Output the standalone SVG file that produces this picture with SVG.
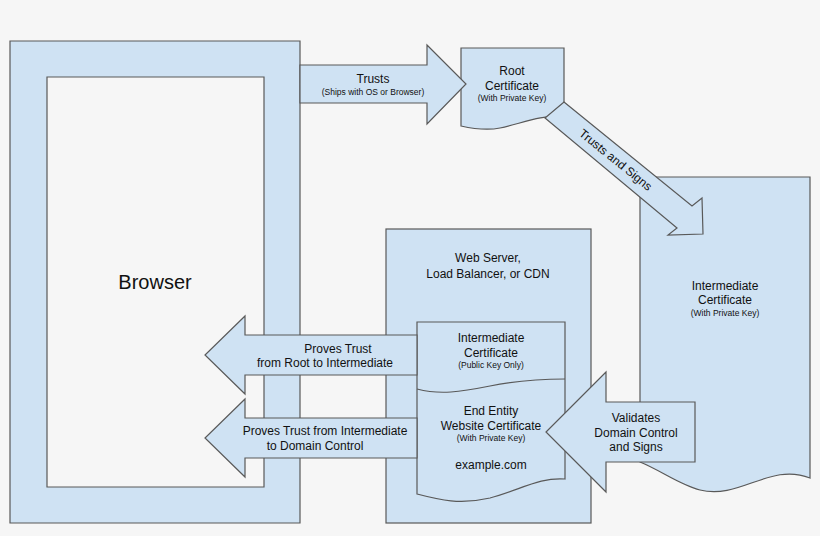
<svg xmlns="http://www.w3.org/2000/svg" width="820" height="536" viewBox="0 0 820 536">
<style>
.s{fill:#cfe2f3;stroke:#595959;stroke-width:1.2}
text{font-family:"Liberation Sans",Arial,sans-serif;fill:#111;text-anchor:middle}
.m{font-size:12px}.sm{font-size:8.5px}
</style>
<rect width="820" height="536" fill="#f6f6f6"/>
<g id="browser">
<path class="s" fill-rule="evenodd" d="M10,41H300V523H10Z M47,77V487H264V77Z"/>
<text x="155" y="289" font-size="20">Browser</text>
</g>
<g id="webserver">
<rect class="s" x="386" y="229" width="205" height="294"/>
<text class="m" x="488" y="262">Web Server,</text>
<text class="m" x="488" y="278">Load Balancer, or CDN</text>
</g>
<g id="intermediate">
<path class="s" d="M640,177H810V478C770,462 740,500 700,490C680,485 660,470 640,462Z"/>
<text class="m" x="725" y="290">Intermediate</text>
<text class="m" x="725" y="304">Certificate</text>
<text class="sm" x="725" y="316">(With Private Key)</text>
</g>
<g id="root">
<path class="s" d="M461,48H564V116C540,115 520,124 500,128C485,131 470,128 461,126Z"/>
<text class="m" x="512" y="75">Root</text>
<text class="m" x="512" y="90">Certificate</text>
<text class="sm" x="512" y="101">(With Private Key)</text>
</g>
<g id="certs">
<path class="s" d="M417,322H565V479C540,477 520,490 490,498C460,505 440,500 417,494Z"/>
<path fill="none" stroke="#595959" stroke-width="1.2" d="M417,389C440,395 460,392 490,386C520,380 540,379 565,379"/>
<text class="m" x="491" y="342">Intermediate</text>
<text class="m" x="491" y="357">Certificate</text>
<text class="sm" x="491" y="368">(Public Key Only)</text>
<text class="m" x="491" y="415">End Entity</text>
<text class="m" x="491" y="430">Website Certificate</text>
<text class="sm" x="491" y="441">(With Private Key)</text>
<text class="m" x="491" y="469">example.com</text>
</g>
<g id="connectors">
<path class="s" d="M300,65H427V45L466,84L427,124V103H300Z"/>
<text class="m" x="373" y="83">Trusts</text>
<text class="sm" x="373" y="95">(Ships with OS or Browser)</text>
<path class="s" d="M564,102L692,206L702,198L703,234L668,235L677,228L545,118Z"/>
<text class="m" transform="translate(613,163) rotate(39)">Trusts and Signs</text>
<path class="s" d="M417,335H245V316L205,355L245,394V375H417Z"/>
<text class="m" x="338" y="353">Proves Trust</text>
<text class="m" x="325" y="367">from Root to Intermediate</text>
<path class="s" d="M417,418H245V399L205,438L245,477V458H417Z"/>
<text class="m" x="325" y="435">Proves Trust from Intermediate</text>
<text class="m" x="315" y="450">to Domain Control</text>
<path class="s" d="M695,402H606V372L546,432L606,492V462H695Z"/>
<text class="m" x="636" y="422">Validates</text>
<text class="m" x="636" y="437">Domain Control</text>
<text class="m" x="636" y="451">and Signs</text>
</g>
</svg>
